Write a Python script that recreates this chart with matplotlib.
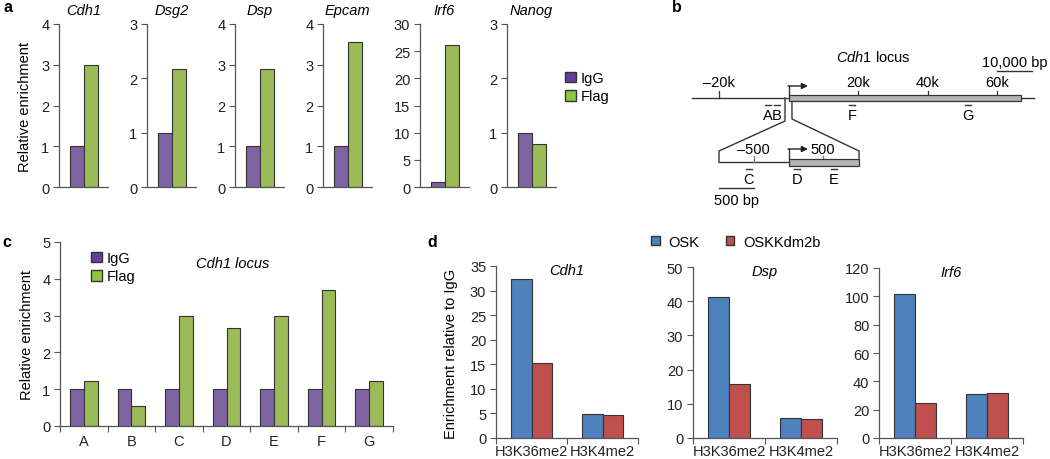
import matplotlib
matplotlib.use('Agg')
import matplotlib.pyplot as plt
from matplotlib.patches import Patch, Rectangle
import numpy as np

plt.rcParams['font.family'] = ['Liberation Sans', 'DejaVu Sans']
plt.rcParams['mathtext.fontset'] = 'custom'
plt.rcParams['mathtext.it'] = 'Liberation Sans:italic'
plt.rcParams['mathtext.rm'] = 'Liberation Sans'

# ---- data ----
genes_a = ['Cdh1', 'Dsg2', 'Dsp', 'Epcam', 'Irf6', 'Nanog']
igg_a = [1, 1, 1, 1, 1, 1]
flag_a = [3.0, 2.18, 2.9, 3.55, 26.2, 0.8]
ymax_a = [4, 3, 4, 4, 30, 3]
ystep_a = [1, 1, 1, 1, 5, 1]

sites_c = ['A', 'B', 'C', 'D', 'E', 'F', 'G']
igg_c = [1, 1, 1, 1, 1, 1, 1]
flag_c = [1.23, 0.53, 3.0, 2.65, 3.0, 3.7, 1.23]

marks_d = ['H3K36me2', 'H3K4me2']
genes_d = ['Cdh1', 'Dsp', 'Irf6']
osk_d = [[32.3, 4.8], [41.2, 5.8], [102, 31]]
kdm_d = [[15.3, 4.6], [15.7, 5.5], [24.5, 32]]
ymax_d = [35, 50, 120]
ystep_d = [5, 10, 20]

# locus schematic (kb for main track, bp for inset)
locus_span_kb = [-27.7, 70.7]
gene_end_kb = 66.8
locus_ticks_kb = [-20, 20, 40, 60]
locus_tick_labels = ['\u201320k', '20k', '40k', '60k']
primers_main = {'A': -5.9, 'B': -3.3, 'F': 18.3, 'G': 51.7}
inset_span_bp = [-1000, 1015]
inset_ticks_bp = [-500, 500]
inset_tick_labels = ['\u2013500', '500']
primers_inset = {'C': -570, 'D': 120, 'E': 655}

c_igg = '#8064A2'
c_flag = '#9BBB59'
c_osk = '#4F81BD'
c_kdm = '#C0504D'
edge = '#333333'
spine = '#555555'

W, H = 1050, 460
fig = plt.figure(figsize=(10.5, 4.6), dpi=100)


def box(l, t, r, b):
    return [l / W, 1 - b / H, (r - l) / W, (b - t) / H]


def style(ax):
    for s in ['top', 'right']:
        ax.spines[s].set_visible(False)
    for s in ['left', 'bottom']:
        ax.spines[s].set_color(spine)
        ax.spines[s].set_linewidth(0.9)
    ax.tick_params(direction='out', length=4, width=0.8, color=spine,
                   labelsize=10.5, pad=3, labelcolor='#222222')


# ---- panel a ----
lefts_a = [59, 147, 235, 323, 420, 507]
for i, g in enumerate(genes_a):
    ax = fig.add_axes(box(lefts_a[i], 25, lefts_a[i] + 49, 188))
    ax.bar([0], [igg_a[i]], width=1, color=c_igg, edgecolor=edge, linewidth=0.8)
    ax.bar([1], [flag_a[i]], width=1, color=c_flag, edgecolor=edge, linewidth=0.8)
    ax.set_xlim(-1.25, 2.25)
    ax.set_ylim(0, ymax_a[i])
    ax.set_yticks(np.arange(0, ymax_a[i] + 0.01, ystep_a[i]))
    ax.set_xticks([])
    style(ax)
    ax.set_title(g, style='italic', fontsize=10.5, pad=7)

fig.text(25 / W, 1 - 107 / H, 'Relative enrichment', rotation=90,
         ha='center', va='center', fontsize=10.5)
leg_h = [Patch(facecolor='#6A3D9A', edgecolor=edge, label='IgG'),
         Patch(facecolor='#8DC63F', edgecolor=edge, label='Flag')]
fig.legend(handles=leg_h, loc='upper left', bbox_to_anchor=(565 / W, 1 - 72 / H),
           frameon=False, fontsize=10.5, handlelength=0.75, handleheight=0.75,
           handletextpad=0.3, labelspacing=0.3, borderpad=0, borderaxespad=0)

# ---- panel b ----
axb = fig.add_axes(box(660, 0, 1050, 220))
axb.set_xlim((660 - 788.5) / 3.475, (1050 - 788.5) / 3.475)
axb.set_ylim(220, 0)
axb.set_axis_off()
lc = '#333333'
axb.plot(locus_span_kb, [99, 99], color=lc, lw=1)
axb.add_patch(Rectangle((0, 96), gene_end_kb, 6, facecolor='#b3b3b3',
                        edgecolor=lc, lw=0.9, zorder=3))
for t, lab in zip(locus_ticks_kb, locus_tick_labels):
    axb.plot([t, t], [92, 96 if t > 0 else 99], color=lc, lw=0.9)
    axb.text(t, 83, lab, ha='center', va='center', fontsize=10.5)
axb.plot([0, 0], [96, 87], color=lc, lw=1)
axb.annotate('', xy=(5.6, 87), xytext=(-0.15, 87),
             arrowprops=dict(arrowstyle='-|>', color='#222222', lw=1,
                             mutation_scale=9, shrinkA=0, shrinkB=0))
for lab, x in primers_main.items():
    axb.plot([x - 0.9, x + 0.9], [106, 106], color=lc, lw=1)
    axb.text(x, 116, lab, ha='center', va='center', fontsize=10.5)
axb.text(24.5, 57, '$\\it{Cdh1}$ locus', ha='center', va='center', fontsize=10.5)
axb.plot([60, 70], [72, 72], color=lc, lw=1)
axb.text(65, 63, '10,000 bp', ha='center', va='center', fontsize=10.5)

s = 0.02  # inset bp -> display units
x0, x1 = inset_span_bp[0] * s, inset_span_bp[1] * s
axb.plot([-1, -1, x0, x0], [99, 122, 152, 163], color=lc, lw=1)
axb.plot([1, 1, x1, x1], [102, 120, 152, 160], color=lc, lw=1)
axb.plot([x0, 0], [163, 163], color=lc, lw=1)
axb.add_patch(Rectangle((0, 160), x1, 7, facecolor='#b3b3b3',
                        edgecolor=lc, lw=0.9, zorder=3))
for t, lab in zip(inset_ticks_bp, inset_tick_labels):
    axb.plot([t * s, t * s], [157, 163 if t < 0 else 160], color='#777777', lw=0.9)
    axb.text(t * s, 150, lab, ha='center', va='center', fontsize=10.5)
axb.plot([0, 0], [160, 150], color=lc, lw=1)
axb.annotate('', xy=(5.6, 150), xytext=(-0.15, 150),
             arrowprops=dict(arrowstyle='-|>', color='#222222', lw=1,
                             mutation_scale=9, shrinkA=0, shrinkB=0))
for lab, x in primers_inset.items():
    axb.plot([x * s - 0.9, x * s + 0.9], [170, 170], color=lc, lw=1)
    axb.text(x * s, 180, lab, ha='center', va='center', fontsize=10.5)
axb.plot([-1000 * s, -500 * s], [189, 189], color=lc, lw=1)
axb.text(-750 * s, 201, '500 bp', ha='center', va='center', fontsize=10.5)

# ---- panel c ----
axc = fig.add_axes(box(60, 243, 393, 427))
xc = np.arange(len(sites_c))
axc.bar(xc - 0.145, igg_c, width=0.29, color=c_igg, edgecolor=edge, linewidth=0.8)
axc.bar(xc + 0.145, flag_c, width=0.29, color=c_flag, edgecolor=edge, linewidth=0.8)
axc.set_xlim(-0.5, len(sites_c) - 0.5)
axc.set_ylim(0, 5)
axc.set_xticks(xc)
axc.set_xticklabels(sites_c)
axc.set_xticks(np.arange(-0.5, len(sites_c)), minor=True)
style(axc)
axc.tick_params(axis='x', which='major', length=0, pad=6, labelsize=10.5)
axc.tick_params(axis='x', which='minor', direction='out', length=4, width=0.8, color=spine)
axc.text(0.52, 0.886, 'Cdh1 locus', style='italic', transform=axc.transAxes,
         ha='center', va='center', fontsize=10.5)
axc.legend(handles=leg_h, loc='upper left', bbox_to_anchor=(91 / W, 1 - 252 / H),
           bbox_transform=fig.transFigure, frameon=False, fontsize=10.5,
           handlelength=0.75, handleheight=0.75, handletextpad=0.3,
           labelspacing=0.3, borderpad=0, borderaxespad=0)
fig.text(27 / W, 1 - 335 / H, 'Relative enrichment', rotation=90,
         ha='center', va='center', fontsize=10.5)

# ---- panel d ----
boxes_d = [(496, 267, 638, 439), (693, 268, 837, 439), (879, 269, 1023, 439)]
xd = np.arange(len(marks_d))
for i, g in enumerate(genes_d):
    ax = fig.add_axes(box(*boxes_d[i]))
    ax.bar(xd - 0.145, osk_d[i], width=0.29, color=c_osk, edgecolor=edge, linewidth=0.8)
    ax.bar(xd + 0.145, kdm_d[i], width=0.29, color=c_kdm, edgecolor=edge, linewidth=0.8)
    ax.set_xlim(-0.5, len(marks_d) - 0.5)
    ax.set_ylim(0, ymax_d[i])
    ax.set_yticks(np.arange(0, ymax_d[i] + 0.01, ystep_d[i]))
    ax.set_xticks(xd)
    ax.set_xticklabels(marks_d)
    ax.set_xticks(np.arange(-0.5, len(marks_d)), minor=True)
    style(ax)
    ax.tick_params(axis='x', which='major', length=0, pad=4, labelsize=10.5)
    ax.tick_params(axis='x', which='minor', direction='out', length=4, width=0.8, color=spine)
    ax.text(0.5, 0.975, g, style='italic', transform=ax.transAxes,
            ha='center', va='center', fontsize=10.5)
fig.text(451 / W, 1 - 354 / H, 'Enrichment relative to IgG', rotation=90,
         ha='center', va='center', fontsize=10.5)
leg_d = [Patch(facecolor=c_osk, edgecolor=edge, label='OSK'),
         Patch(facecolor=c_kdm, edgecolor=edge, label='OSKKdm2b')]
fig.legend(handles=leg_d, loc='center left', bbox_to_anchor=(651 / W, 1 - 243 / H),
           ncol=2, frameon=False, fontsize=10.5, handlelength=0.6, handleheight=0.6,
           handletextpad=0.6, columnspacing=1.8, borderpad=0, borderaxespad=0)

# panel letters
for lab, (px, py) in {'a': (8, 8), 'b': (677, 8), 'c': (7, 243), 'd': (432, 243)}.items():
    fig.text(px / W, 1 - py / H, lab, fontweight='bold', fontsize=11.5,
             ha='center', va='center')

fig.savefig('out.png', dpi=100)
